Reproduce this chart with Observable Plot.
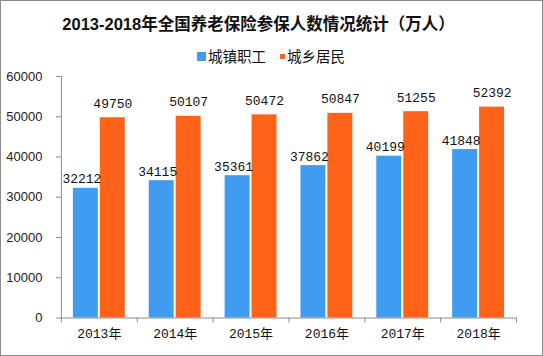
<!DOCTYPE html>
<html>
<head>
<meta charset="utf-8">
<script src="https://cdn.jsdelivr.net/npm/d3@7"></script>
<script src="https://cdn.jsdelivr.net/npm/@observablehq/plot@0.6"></script>
<style>
  html, body { margin: 0; padding: 0; background: #fff; }
  #wrap { position: relative; width: 543px; height: 356px; box-sizing: border-box; border: 1px solid #8c8c8c; overflow: hidden; background: #fff; }
  #title { position: absolute; left: 0; top: 12px; width: 515px; text-align: center; font: bold 16.5px "Liberation Sans", "Noto Sans CJK SC", sans-serif; color: #111; line-height: 22px; white-space: nowrap; }
  #legend { position: absolute; left: 196px; top: 45px; font: 14.5px "Noto Sans CJK SC", sans-serif; color: #111; line-height: 20px; white-space: nowrap; display: flex; align-items: center; }
  #legend .sw { display: inline-block; margin-right: 2px; }
  #legend .item { display: flex; align-items: center; margin-right: 14px; }
  #chart { position: absolute; left: -1px; top: 63px; }
</style>
</head>
<body>
<div id="wrap">
  <div id="title"></div>
  <div id="legend"></div>
  <div id="chart"></div>
</div>
<script>
const titleText = "2013-2018年全国养老保险参保人数情况统计（万人）";
const years = ["2013年", "2014年", "2015年", "2016年", "2017年", "2018年"];
const seriesNames = ["城镇职工", "城乡居民"];
const urbanWorkers = [32212, 34115, 35361, 37862, 40199, 41848];
const ruralResidents = [49750, 50107, 50472, 50847, 51255, 52392];
const yTicks = [0, 10000, 20000, 30000, 40000, 50000, 60000];
const colors = ["#3f9cf0", "#ff631a"];
const axisColor = "#8c8c8c";

const data = years.flatMap((yr, i) => [
  {year: yr, series: seriesNames[0], value: urbanWorkers[i]},
  {year: yr, series: seriesNames[1], value: ruralResidents[i]}
]);

document.getElementById("title").textContent = titleText;
const legend = document.getElementById("legend");
seriesNames.forEach((name, i) => {
  const item = document.createElement("span");
  item.className = "item";
  const sw = document.createElement("span");
  sw.className = "sw";
  const s = i === 0 ? 9 : 5;
  sw.style.width = s + "px"; sw.style.height = s + "px"; sw.style.background = colors[i];
  item.appendChild(sw);
  const t = document.createElement("span");
  t.textContent = name;
  item.appendChild(t);
  legend.appendChild(item);
});

const monoFont = "'Liberation Mono', 'Noto Sans CJK SC', monospace";

const chart = Plot.plot({
  width: 543,
  height: 291,
  marginTop: 12,
  marginBottom: 37,
  marginLeft: 60,
  marginRight: 25,
  style: {background: "transparent", fontSize: "13px", color: "#222"},
  fx: {domain: years, padding: 0, label: null},
  x: {domain: seriesNames, paddingInner: 0.074, paddingOuter: 0.444, axis: null},
  y: {domain: [0, 60000], axis: null},
  color: {domain: seriesNames, range: colors},
  marks: [
    Plot.barY(data, {fx: "year", x: "series", y: "value", fill: "series"}),
    Plot.ruleY([0], {stroke: axisColor}),
    Plot.frame({anchor: "left", facetAnchor: "left", stroke: axisColor}),
    Plot.axisY({ticks: yTicks, tickFormat: "d", tickSize: 5, tickPadding: 14, stroke: axisColor, fill: "#222", fontSize: 13, fontFamily: "'Liberation Sans', sans-serif", label: null}),
    Plot.axisFx({anchor: "bottom", tickSize: 0, tickPadding: 11, label: null, fill: "#111", fontSize: 13, fontFamily: monoFont}),
    Plot.text(data.filter(d => d.series === seriesNames[0]), {fx: "year", x: "series", y: "value", text: d => String(d.value), lineAnchor: "bottom", dy: -5, dx: -4, fill: "#111", fontSize: 13, fontFamily: monoFont}),
    Plot.text(data.filter(d => d.series === seriesNames[1]), {fx: "year", x: "series", y: "value", text: d => String(d.value), lineAnchor: "bottom", dy: -10, fill: "#111", fontSize: 13, fontFamily: monoFont})
  ]
});
document.getElementById("chart").appendChild(chart);

// boundary tick marks under the category axis, from the fx band scale
const fxS = chart.scale("fx");
const yS = chart.scale("y");
const y0 = yS.apply(0);
const bounds = years.map(v => fxS.apply(v)).concat([fxS.apply(years[years.length - 1]) + fxS.bandwidth]);
d3.select(chart).append("g")
  .attr("stroke", axisColor)
  .selectAll("line").data(bounds).join("line")
  .attr("x1", d => d + 0.5).attr("x2", d => d + 0.5)
  .attr("y1", y0).attr("y2", y0 + 5);
</script>
</body>
</html>
